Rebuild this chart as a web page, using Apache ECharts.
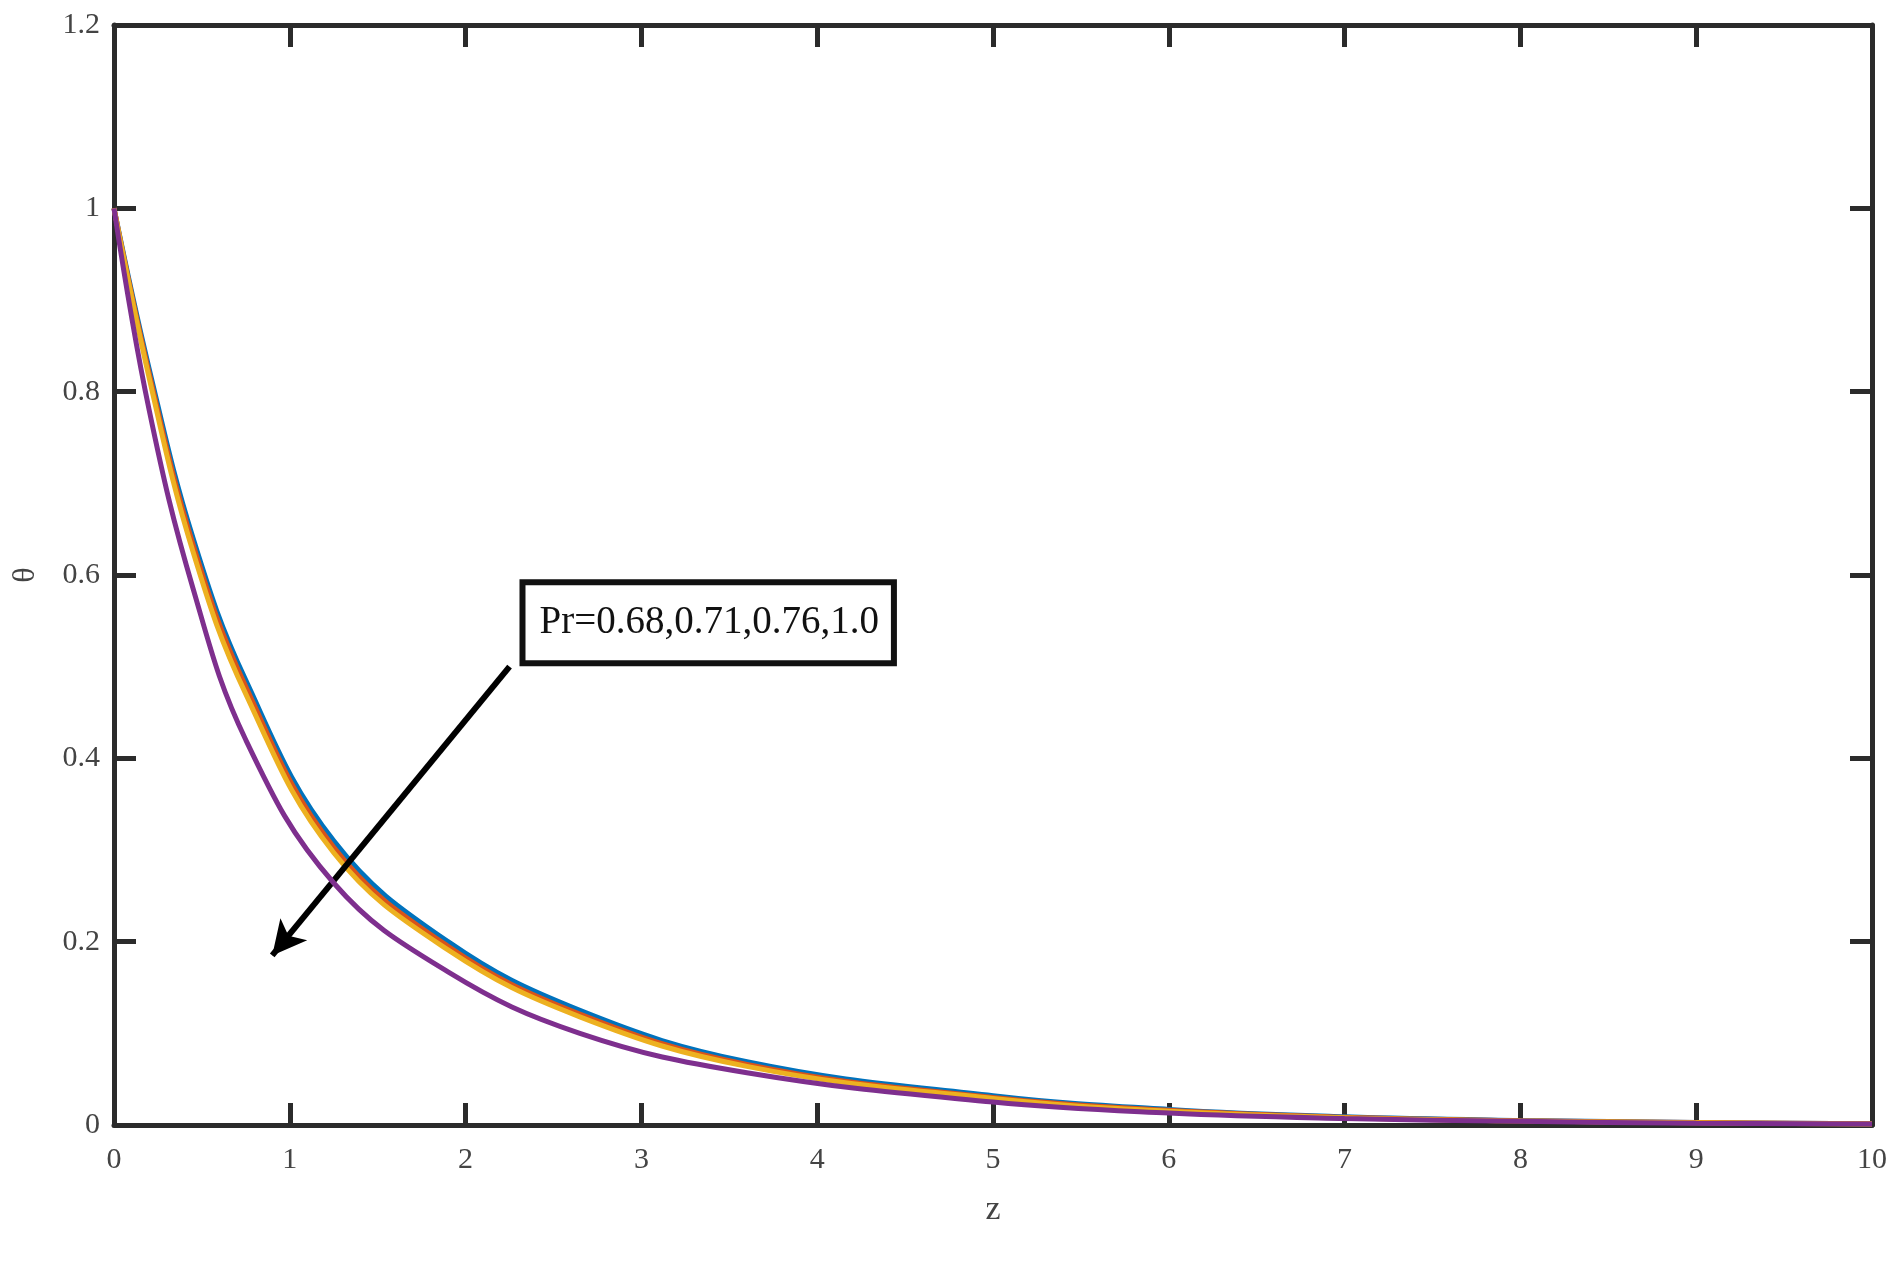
<!DOCTYPE html>
<html><head><meta charset="utf-8">
<script src="https://cdn.jsdelivr.net/npm/echarts@6/dist/echarts.min.js"></script>
<style>html,body{margin:0;padding:0;background:#fff}#c{width:1896px;height:1261px}</style>
</head><body><div id="c"></div>
<script>
const zVals = [0,0.2,0.45,0.75,1.25,1.9,2.65,3.6,5,6,7,8,9,10];
const pr068 = [1,0.825,0.64,0.485,0.31,0.20,0.125,0.069,0.032,0.017,0.009,0.005,0.0028,0.0014];
const pr071 = [1,0.82,0.633,0.478,0.303,0.195,0.121,0.066,0.030,0.016,0.0085,0.0047,0.0026,0.0013];
const pr076 = [1,0.815,0.625,0.47,0.297,0.191,0.118,0.064,0.029,0.015,0.008,0.0045,0.0025,0.0012];
const pr100 = [1,0.78,0.585,0.42,0.264,0.167,0.10,0.057,0.025,0.013,0.007,0.004,0.002,0.001];
const xTicks = [0,1,2,3,4,5,6,7,8,9,10];
const yTicks = [0,0.2,0.4,0.6,0.8,1,1.2];
const annotText = 'Pr=0.68,0.71,0.76,1.0';
const colors = ['#0072BD','#D95319','#EDB120','#7E2F8E'];

const chart = echarts.init(document.getElementById('c'));
const mk = a => zVals.map((z,i)=>[z,a[i]]);
const axStyle = {onZero:false,lineStyle:{color:'#2b2b2b',width:5}};
const tickStyle = {inside:true,length:22,lineStyle:{color:'#2b2b2b',width:5}};
const font = 'Liberation Serif';
chart.setOption({
  animation:false,
  grid:{left:114,top:25,right:24,bottom:136},
  xAxis:[
    {type:'value',min:0,max:10,interval:1,name:'z',nameLocation:'middle',nameGap:68,
     nameTextStyle:{fontFamily:font,fontSize:34,color:'#444'},
     axisLine:axStyle,axisTick:tickStyle,splitLine:{show:false},
     axisLabel:{fontFamily:font,fontSize:30,color:'#444',margin:20}},
    {type:'value',position:'top',min:0,max:10,interval:1,axisLine:axStyle,axisTick:tickStyle,
     axisLabel:{show:false},splitLine:{show:false}}
  ],
  yAxis:[
    {type:'value',min:0,max:1.2,interval:0.2,name:'θ',nameLocation:'middle',nameGap:72,
     nameTextStyle:{fontFamily:font,fontSize:32,color:'#444'},
     axisLine:axStyle,axisTick:tickStyle,splitLine:{show:false},
     axisLabel:{fontFamily:font,fontSize:30,color:'#444',margin:14,formatter:v=>String(+v.toFixed(1))}},
    {type:'value',position:'right',min:0,max:1.2,interval:0.2,axisLine:axStyle,axisTick:tickStyle,
     axisLabel:{show:false},splitLine:{show:false}}
  ],
  series:[
    {type:'line',data:mk(pr068),smooth:0.4,showSymbol:false,lineStyle:{color:colors[0],width:5},z:2},
    {type:'line',data:mk(pr071),smooth:0.4,showSymbol:false,lineStyle:{color:colors[1],width:5},z:3},
    {type:'line',data:mk(pr076),smooth:0.4,showSymbol:false,lineStyle:{color:colors[2],width:5},z:4},
    {type:'line',data:mk(pr100),smooth:0.4,showSymbol:false,lineStyle:{color:colors[3],width:5},z:5,
     markLine:{silent:true,symbol:['none','arrow'],symbolSize:[26,34],label:{show:false},
       lineStyle:{color:'#000',width:6,type:'solid'},
       data:[[{coord:[2.25,0.5]},{coord:[0.9,0.185]}]]},
     markPoint:{silent:true,symbol:'rect',symbolSize:1,itemStyle:{color:'transparent'},
       data:[{coord:[3.38,0.548],label:{show:true,position:'inside',formatter:annotText,
         fontFamily:font,fontSize:39,color:'#111',backgroundColor:'#fff',
         borderColor:'#111',borderWidth:6,padding:[18,12,18,14]}}]}}
  ]
});
</script></body></html>
